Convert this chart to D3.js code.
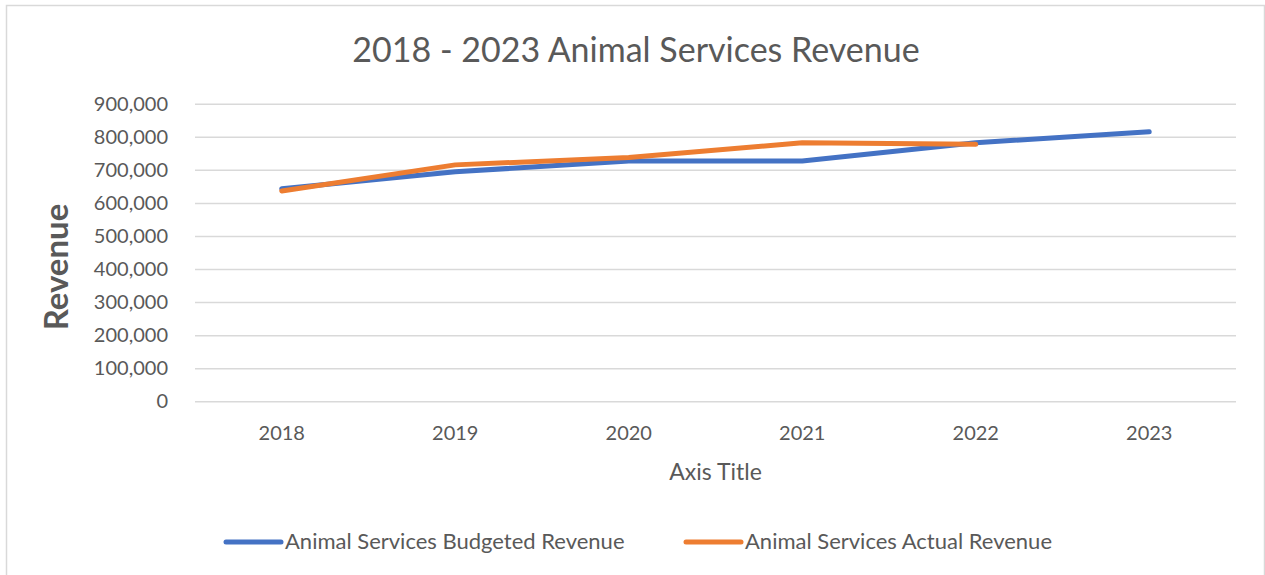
<!DOCTYPE html>
<html>
<head>
<meta charset="utf-8">
<script src="https://cdn.jsdelivr.net/npm/d3@7"></script>
<style>
  body { margin: 0; background: #fff; }
  text { font-family: Lato, "Noto Sans", sans-serif; fill: #595959; }
</style>
</head>
<body>
<div id="chart"></div>
<script>
(function () {

  // values
  const years = ['2018', '2019', '2020', '2021', '2022', '2023']
  const budgeted = [643000, 694000, 727000, 727000, 782000, 815000]
  const actual = [636000, 715000, 737000, 782000, 777000, null]
  const yTicks = [0, 100000, 200000, 300000, 400000, 500000, 600000, 700000, 800000, 900000]
  const seriesNames = ['Animal Services Budgeted Revenue', 'Animal Services Actual Revenue']
  const colors = ['#4472C4', '#ED7D31']

  const W = 1265
  const H = 575
  const plot = { left: 195, right: 1236, top: 103.7, bottom: 401.3 }

  const svg = d3.select('#chart').append('svg')
      .attr('width', W)
      .attr('height', H)

  // chart border
  svg.append('rect')
    .attr('x', 6.5)
    .attr('y', 5.5)
    .attr('width', 1258)
    .attr('height', 580)
    .attr('fill', 'none')
    .attr('stroke', '#d9d9d9')
    .attr('stroke-width', 1.5)

  const xScale = d3.scaleBand()
    .domain(years)
    .range([plot.left, plot.right])

  const yScale = d3.scaleLinear()
    .domain([0, 900000])
    .range([plot.bottom, plot.top])

  const xMid = d => xScale(d) + xScale.bandwidth() / 2

  // y axis with gridlines
  const yAxis = d3.axisLeft(yScale)
    .tickValues(yTicks)
    .tickSize(-(plot.right - plot.left))
    .tickPadding(27)
    .tickFormat(d3.format(','))

  svg.append('g')
    .attr('class', 'y-axis')
    .attr('transform', 'translate(' + plot.left + ',0)')
    .call(yAxis)
    .call(g => g.select('.domain').remove())
    .call(g => g.selectAll('line').attr('stroke', '#d9d9d9').attr('stroke-width', 1.5))
    .call(g => g.selectAll('text').attr('font-size', 20).attr('fill', '#595959').attr('font-family', null))

  // x axis labels
  const xAxis = d3.axisBottom(xScale)
    .tickSize(0)
    .tickPadding(25)

  svg.append('g')
    .attr('class', 'x-axis')
    .attr('transform', 'translate(0,' + plot.bottom + ')')
    .call(xAxis)
    .call(g => g.select('.domain').remove())
    .call(g => g.selectAll('text').attr('font-size', 20).attr('fill', '#595959').attr('font-family', null))

  // lines
  const line = d3.line()
    .defined(d => d.value != null)
    .x(d => xMid(d.year))
    .y(d => yScale(d.value))

  const series = [budgeted, actual].map((vals, i) => ({
    name: seriesNames[i],
    color: colors[i],
    values: years.map((y, j) => ({ year: y, value: vals[j] }))
  }))

  svg.selectAll('path.series')
    .data(series)
    .join('path')
    .attr('class', 'series')
    .attr('d', d => line(d.values))
    .attr('fill', 'none')
    .attr('stroke', d => d.color)
    .attr('stroke-width', 5)
    .attr('stroke-linecap', 'round')
    .attr('stroke-linejoin', 'round')

  // title
  svg.append('text')
    .attr('x', 636)
    .attr('y', 62)
    .attr('text-anchor', 'middle')
    .attr('font-size', 34)
    .text('2018 - 2023 Animal Services Revenue')

  // axis titles
  svg.append('text')
    .attr('transform', 'translate(68,267) rotate(-90)')
    .attr('text-anchor', 'middle')
    .attr('font-size', 33)
    .attr('font-weight', 'bold')
    .text('Revenue')

  svg.append('text')
    .attr('x', (plot.left + plot.right) / 2)
    .attr('y', 480)
    .attr('text-anchor', 'middle')
    .attr('font-size', 23)
    .text('Axis Title')

  // legend
  const legend = svg.append('g')
  const legendX = [226, 686]

  legend.selectAll('line')
    .data(series)
    .join('line')
    .attr('x1', (d, i) => legendX[i])
    .attr('x2', (d, i) => legendX[i] + 55)
    .attr('y1', 542)
    .attr('y2', 542)
    .attr('stroke', d => d.color)
    .attr('stroke-width', 5)
    .attr('stroke-linecap', 'round')

  legend.selectAll('text')
    .data(series)
    .join('text')
    .attr('x', (d, i) => legendX[i] + 59)
    .attr('y', 549)
    .attr('font-size', 22)
    .text(d => d.name)

})();
</script>
</body>
</html>
